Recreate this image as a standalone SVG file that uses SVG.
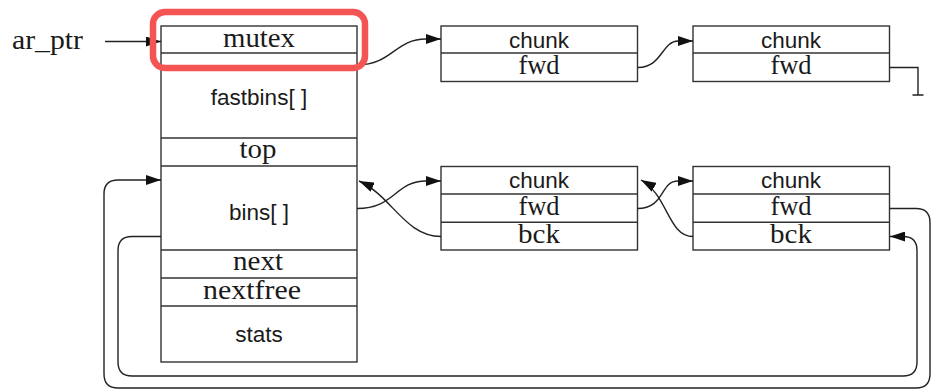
<svg xmlns="http://www.w3.org/2000/svg" width="932" height="390" viewBox="0 0 932 390">
<defs>
<style>
.box{fill:#fff;stroke:#333;stroke-width:1.4}
.div{stroke:#333;stroke-width:1.4}
.serif{font-family:"Liberation Serif","Times New Roman",serif;font-size:26.5px;fill:#1a1a1a;text-anchor:middle}
.sans{font-family:"Liberation Sans",Arial,sans-serif;font-size:22.5px;fill:#1a1a1a;text-anchor:middle}
.edge{fill:none;stroke:#222;stroke-width:1.4}
.hl{fill:none;stroke:#f55454;stroke-width:6.5}
</style>
<marker id="arr" viewBox="0 0 15 10" refX="15" refY="5" markerWidth="15" markerHeight="10" markerUnits="userSpaceOnUse" orient="auto">
<path d="M0,0 L15,5 L0,10 z" fill="#111"/>
</marker>
</defs>
<rect width="932" height="390" fill="#fff"/>

<g id="ar_ptr">
<text class="serif" x="47.5" y="48.5" textLength="71" lengthAdjust="spacingAndGlyphs">ar_ptr</text>
</g>

<g id="arena">
<rect class="box" x="161" y="26" width="196" height="336"/>
<line class="div" x1="161" y1="53" x2="357" y2="53"/>
<line class="div" x1="161" y1="138" x2="357" y2="138"/>
<line class="div" x1="161" y1="166" x2="357" y2="166"/>
<line class="div" x1="161" y1="250" x2="357" y2="250"/>
<line class="div" x1="161" y1="278" x2="357" y2="278"/>
<line class="div" x1="161" y1="306" x2="357" y2="306"/>
<text class="serif" x="259" y="47" textLength="72" lengthAdjust="spacingAndGlyphs">mutex</text>
<text class="sans" x="259" y="105">fastbins[ ]</text>
<text class="serif" x="258" y="158" textLength="37" lengthAdjust="spacingAndGlyphs">top</text>
<text class="sans" x="259" y="220">bins[ ]</text>
<text class="serif" x="258" y="270" textLength="50" lengthAdjust="spacingAndGlyphs">next</text>
<text class="serif" x="252" y="299" textLength="98" lengthAdjust="spacingAndGlyphs">nextfree</text>
<text class="sans" x="259" y="342">stats</text>
</g>

<g id="fchunk1">
<rect class="box" x="441" y="26" width="196.5" height="55.5"/>
<line class="div" x1="441" y1="53" x2="637.5" y2="53"/>
<text class="sans" x="539" y="47.5">chunk</text>
<text class="serif" x="539" y="74">fwd</text>
</g>

<g id="fchunk2">
<rect class="box" x="693" y="26" width="196.5" height="55.5"/>
<line class="div" x1="693" y1="53" x2="889.5" y2="53"/>
<text class="sans" x="791" y="47.5">chunk</text>
<text class="serif" x="791" y="74">fwd</text>
</g>

<g id="bchunk1">
<rect class="box" x="441" y="166.5" width="196.5" height="83.5"/>
<line class="div" x1="441" y1="194" x2="637.5" y2="194"/>
<line class="div" x1="441" y1="222.3" x2="637.5" y2="222.3"/>
<text class="sans" x="539" y="188">chunk</text>
<text class="serif" x="539" y="215">fwd</text>
<text class="serif" x="539" y="243" textLength="42" lengthAdjust="spacingAndGlyphs">bck</text>
</g>

<g id="bchunk2">
<rect class="box" x="693" y="166.5" width="196.5" height="83.5"/>
<line class="div" x1="693" y1="194" x2="889.5" y2="194"/>
<line class="div" x1="693" y1="222.3" x2="889.5" y2="222.3"/>
<text class="sans" x="791" y="188">chunk</text>
<text class="serif" x="791" y="215">fwd</text>
<text class="serif" x="791" y="243" textLength="42" lengthAdjust="spacingAndGlyphs">bck</text>
</g>

<g id="connectors">
<path class="edge" d="M105,41.5 L161,41.5" marker-end="url(#arr)"/>
<path class="edge" d="M357,65 C392,65 395,39 426,39 L441,39" marker-end="url(#arr)"/>
<path class="edge" d="M638,67.5 C662,67.5 662,41 678,41 L693,41" marker-end="url(#arr)"/>
<path class="edge" d="M890,67.5 L918,67.5 L918,95 M912.5,95 L923.5,95"/>
<path class="edge" d="M357,208.5 C395,208.5 395,181 426,181 L441,181" marker-end="url(#arr)"/>
<path class="edge" d="M441,236.5 C405,236.5 392,196 359,181" marker-end="url(#arr)"/>
<path class="edge" d="M637.5,208.5 C665,208.5 660,181 678,181 L693,181" marker-end="url(#arr)"/>
<path class="edge" d="M693,236.5 C668,236.5 668,195 641,180" marker-end="url(#arr)"/>
<path class="edge" d="M889.5,208.5 L916,208.5 Q930,208.5 930,222.5 L930,374 Q930,388 916,388 L118,388 Q104,388 104,374 L104,194 Q104,180 118,180 L161,180" marker-end="url(#arr)"/>
<path class="edge" d="M161,236.5 L132,236.5 Q118,236.5 118,250.5 L118,362 Q118,376 132,376 L903,376 Q917,376 917,362 L917,250.5 Q917,236.5 903,236.5 L890,236.5" marker-end="url(#arr)"/>
</g>

<g id="highlight">
<rect class="hl" x="153" y="12" width="212" height="56" rx="12" ry="12"/>
</g>
</svg>
